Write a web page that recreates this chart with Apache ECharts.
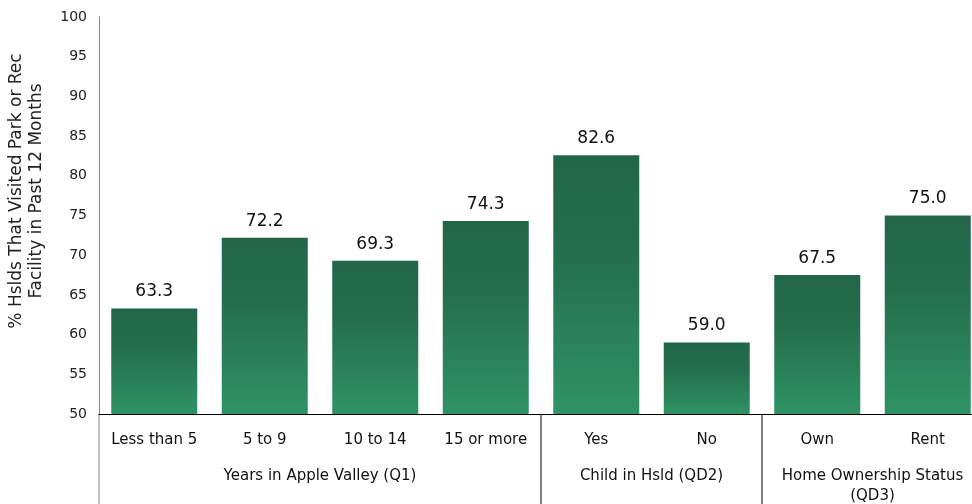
<!DOCTYPE html>
<html>
<head>
<meta charset="utf-8">
<script src="https://cdn.jsdelivr.net/npm/echarts@6/dist/echarts.min.js"></script>
<style>
  html, body { margin: 0; padding: 0; background: #fff; overflow: hidden; }
  /* the last category runs a little past the right edge of the page */
  #chart { width: 983px; height: 504px; }
</style>
</head>
<body>
<div id="chart"></div>
<script>
// Share of households that visited a park or rec facility, by respondent group
const categories = ['Less than 5', '5 to 9', '10 to 14', '15 or more', 'Yes', 'No', 'Own', 'Rent'];
const values = [63.3, 72.2, 69.3, 74.3, 82.6, 59.0, 67.5, 75.0];
const groupNames = ['Years in Apple Valley (Q1)', 'Child in Hsld (QD2)', 'Home Ownership Status\n(QD3)'];
const groupSizes = [4, 2, 2];
const yTicks = [50, 55, 60, 65, 70, 75, 80, 85, 90, 95, 100];
const yTitle = '% Hslds That Visited Park or Rec\nFacility in Past 12 Months';

const FONT = 'DejaVu Sans';
const chart = echarts.init(document.getElementById('chart'));

const barColor = new echarts.graphic.LinearGradient(0, 0, 0, 1, [
  { offset: 0, color: '#22664a' },
  { offset: 0.35, color: '#246d4d' },
  { offset: 1, color: '#2f9365' }
]);

chart.setOption({
  animation: false,
  textStyle: { fontFamily: FONT },
  grid: { left: 99, right: 0, top: 17, bottom: 90 },
  xAxis: {
    type: 'category',
    data: categories,
    axisLine: { lineStyle: { color: '#000', width: 1 } },
    axisTick: { show: false },
    axisLabel: { color: '#111', fontSize: 15, margin: 19, interval: 0 }
  },
  yAxis: {
    type: 'value',
    min: yTicks[0],
    max: yTicks[yTicks.length - 1],
    interval: 5,
    axisLine: { show: true, lineStyle: { color: '#888' } },
    axisTick: { show: false },
    splitLine: { show: false },
    axisLabel: { color: '#222', fontSize: 14, margin: 12 }
  },
  series: [{
    type: 'bar',
    data: values,
    barWidth: 86,
    itemStyle: { color: barColor },
    label: {
      show: true,
      position: 'top',
      distance: 8,
      fontSize: 17,
      color: '#111',
      formatter: p => p.value.toFixed(1)
    }
  }]
});

// Axis title, group labels and dividers under the category axis
function drawGroups() {
  const axisY = chart.convertToPixel({ yAxisIndex: 0 }, yTicks[0]);
  const step = chart.convertToPixel({ xAxisIndex: 0 }, 1) - chart.convertToPixel({ xAxisIndex: 0 }, 0);
  const x0 = chart.convertToPixel({ xAxisIndex: 0 }, 0) - step / 2;
  const bottom = 504;
  const elements = [{
    type: 'text',
    x: 27,
    y: 191,
    rotation: Math.PI / 2,
    style: {
      text: yTitle,
      fontFamily: FONT,
      fontSize: 17,
      lineHeight: 20,
      fill: '#222',
      textAlign: 'center',
      textVerticalAlign: 'middle'
    }
  }, {
    type: 'line',
    shape: { x1: x0, y1: axisY, x2: x0, y2: bottom },
    style: { stroke: '#888', lineWidth: 1 }
  }];
  let start = 0;
  groupSizes.forEach((size, i) => {
    const left = x0 + start * step;
    const right = x0 + (start + size) * step;
    if (i > 0) {
      elements.push({
        type: 'line',
        shape: { x1: left, y1: axisY, x2: left, y2: bottom },
        style: { stroke: '#000', lineWidth: 1 }
      });
    }
    elements.push({
      type: 'text',
      x: (left + right) / 2,
      y: axisY + 52,
      style: {
        text: groupNames[i],
        fontFamily: FONT,
        fontSize: 15,
        lineHeight: 20,
        fill: '#111',
        textAlign: 'center',
        textVerticalAlign: 'top'
      }
    });
    start += size;
  });
  chart.setOption({ graphic: elements });
}
drawGroups();
</script>
</body>
</html>
